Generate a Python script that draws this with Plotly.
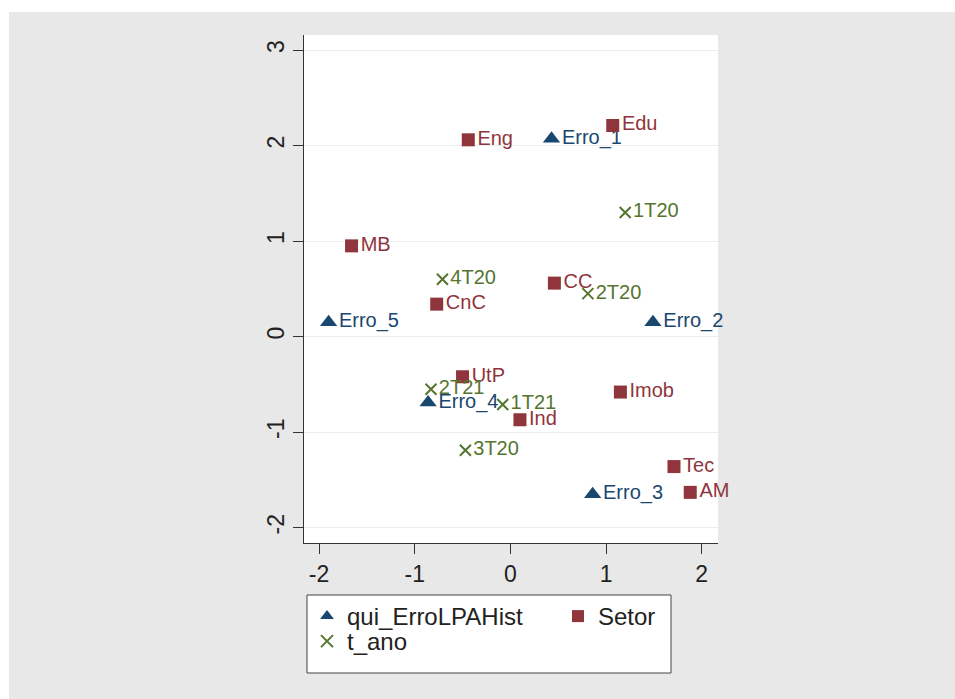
import plotly.graph_objects as go

# ---- data ----
erro_labels = ["Erro_1", "Erro_5", "Erro_2", "Erro_4", "Erro_3"]
erro_x = [0.43, -1.90, 1.49, -0.86, 0.86]
erro_y = [2.07, 0.15, 0.15, -0.69, -1.65]

setor_labels = ["Edu", "Eng", "MB", "CC", "CnC", "UtP", "Imob", "Ind", "Tec", "AM"]
setor_x = [1.07, -0.44, -1.66, 0.46, -0.77, -0.50, 1.15, 0.10, 1.71, 1.88]
setor_y = [2.21, 2.06, 0.95, 0.56, 0.34, -0.42, -0.58, -0.87, -1.36, -1.63]

tano_labels = ["1T20", "4T20", "2T20", "2T21", "1T21", "3T20"]
tano_x = [1.20, -0.71, 0.81, -0.83, -0.08, -0.47]
tano_y = [1.30, 0.60, 0.45, -0.55, -0.71, -1.19]

x_ticks = [-2, -1, 0, 1, 2]
x_ticktext = ["-2", "-1", "0", "1", "2"]
y_ticks = [-2, -1, 0, 1, 2, 3]
y_ticktext = ["-2", "-1", "0", "1", "2", "3"]

NAVY = "#1a476f"
MAROON = "#90353b"
GREEN = "#55752f"
FONT = "Liberation Sans, Arial"

W, H = 955, 699
L, R, T, B = 304, 718, 35, 543  # plot area in pixels
pw, ph = R - L, B - T

def px_x(p):
    return (p - L) / pw

def px_y(p):
    return (B - p) / ph

fig = go.Figure()

fig.add_trace(go.Scatter(
    x=erro_x, y=erro_y, text=erro_labels, mode="markers+text",
    name="qui_ErroLPAHist", textposition="middle right",
    legend="legend", legendwidth=206, cliponaxis=False,
    marker=dict(symbol="triangle-up", size=15, color=NAVY),
    textfont=dict(color=NAVY, size=20, family=FONT),
))
fig.add_trace(go.Scatter(
    x=setor_x, y=setor_y, text=setor_labels, mode="markers+text",
    name="Setor", textposition="middle right",
    legend="legend", cliponaxis=False,
    marker=dict(symbol="square", size=13, color=MAROON),
    textfont=dict(color=MAROON, size=20, family=FONT),
))
fig.add_trace(go.Scatter(
    x=tano_x, y=tano_y, text=tano_labels, mode="markers+text",
    name="t_ano", textposition="middle right",
    legend="legend2", cliponaxis=False,
    marker=dict(symbol="x-thin", size=11, color=GREEN,
                line=dict(color=GREEN, width=2)),
    textfont=dict(color=GREEN, size=20, family=FONT),
))

# white strips at top and left of the figure (rest of paper is grey)
fig.add_shape(type="rect", xref="paper", yref="paper", layer="below",
              x0=px_x(0), x1=px_x(W), y0=px_y(12), y1=px_y(0),
              fillcolor="white", line_width=0)
fig.add_shape(type="rect", xref="paper", yref="paper", layer="below",
              x0=px_x(0), x1=px_x(9), y0=px_y(H), y1=px_y(0),
              fillcolor="white", line_width=0)
# legend frame
fig.add_shape(type="rect", xref="paper", yref="paper", layer="below",
              x0=px_x(307), x1=px_x(671), y0=px_y(673), y1=px_y(595),
              fillcolor="white", line=dict(color="#444", width=1))

legend_common = dict(
    orientation="h", xanchor="left", yanchor="top",
    bgcolor="rgba(0,0,0,0)", borderwidth=0,
    font=dict(size=24, color="#222", family=FONT),
    itemsizing="constant",
)

fig.update_layout(
    width=W, height=H,
    margin=dict(l=L, r=W - R, t=T, b=H - B, pad=0),
    paper_bgcolor="#e8e8e8",
    plot_bgcolor="white",
    font=dict(family=FONT, color="#222"),
    showlegend=True,
    legend=dict(x=px_x(307), y=px_y(594), **legend_common),
    legend2=dict(x=px_x(307), y=px_y(619), **legend_common),
    xaxis=dict(
        range=[-2.157, 2.17], tickvals=x_ticks, ticktext=x_ticktext,
        showgrid=False,
        zeroline=False, showline=True, linecolor="#333", linewidth=1,
        ticks="outside", ticklen=10, tickcolor="#333",
        tickfont=dict(size=23), ticklabelstandoff=0,
    ),
    yaxis=dict(
        range=[-2.16, 3.157], tickvals=y_ticks, ticktext=y_ticktext,
        showgrid=True, gridcolor="#eaeef0", gridwidth=1,
        zeroline=False, showline=True, linecolor="#333", linewidth=1,
        ticks="outside", ticklen=10, tickcolor="#333",
        tickfont=dict(size=23), tickangle=-90, ticklabelstandoff=0,
    ),
)

fig.write_html(
    "out.html",
    config={"displayModeBar": False},
    post_script="document.body.style.margin='0';document.body.style.overflow='hidden';",
)
